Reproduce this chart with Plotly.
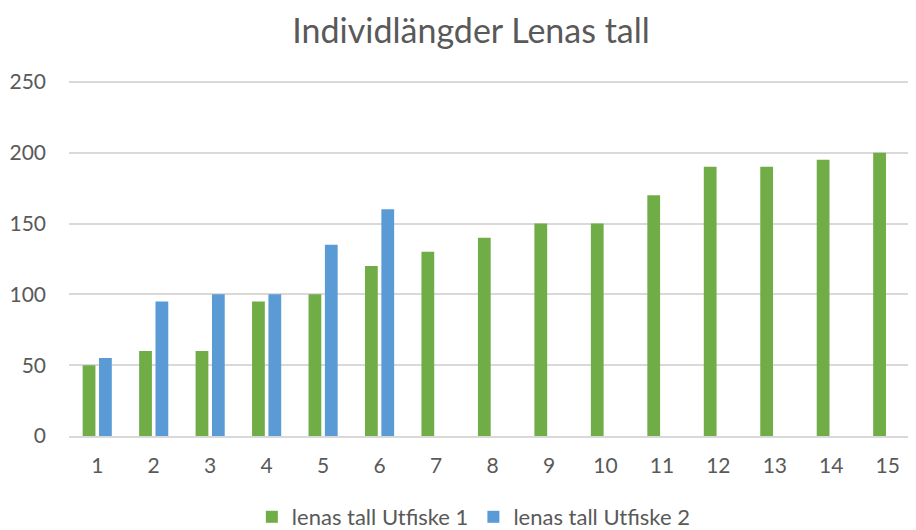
import plotly.graph_objects as go

categories = [str(i) for i in range(1, 16)]
utfiske1 = [50, 60, 60, 95, 100, 120, 130, 140, 150, 150, 170, 190, 190, 195, 200]
utfiske2 = [55, 95, 100, 100, 135, 160]
y_ticks = [0, 50, 100, 150, 200, 250]

FONT = "Lato"
TXT = "#595959"

W, H = 908, 522  # page body has an 8px margin

fig = go.Figure()
fig.add_trace(go.Bar(x=categories, y=utfiske1, name="lenas tall Utfiske 1",
                     marker=dict(color="#70AD47", line=dict(width=0))))
fig.add_trace(go.Bar(x=categories[:len(utfiske2)], y=utfiske2, name="lenas tall Utfiske 2",
                     marker=dict(color="#5B9BD5", line=dict(width=0))))

fig.update_layout(
    width=W, height=H,
    paper_bgcolor="white", plot_bgcolor="white",
    margin=dict(l=61, r=0, t=71, b=94),
    barmode="group", bargap=0.42, bargroupgap=0.22,
    title=dict(text="Individlängder Lenas tall", x=0.51, xanchor="center",
               yref="container", y=1 - 23 / H, yanchor="middle",
               font=dict(family=FONT, size=34, color=TXT)),
    font=dict(family=FONT, size=21, color=TXT),
    xaxis=dict(type="category", categoryorder="array", categoryarray=categories,
               showgrid=False, showline=True, linecolor="#D9D9D9", linewidth=1.5,
               ticks="", ticklabelstandoff=10, automargin=False,
               tickfont=dict(size=21, color=TXT)),
    yaxis=dict(range=[0, 252], tickvals=y_ticks, showgrid=True, gridcolor="#D9D9D9",
               gridwidth=1.5, zeroline=False, showline=False, ticks="",
               ticklabelstandoff=22, automargin=False,
               tickfont=dict(size=21, color=TXT)),
    legend=dict(orientation="h", x=0.478, xanchor="center", yref="container",
                y=13 / H, yanchor="middle",
                font=dict(size=22, color=TXT), itemwidth=30, tracegroupgap=0),
)

fig.write_html("out.html")
